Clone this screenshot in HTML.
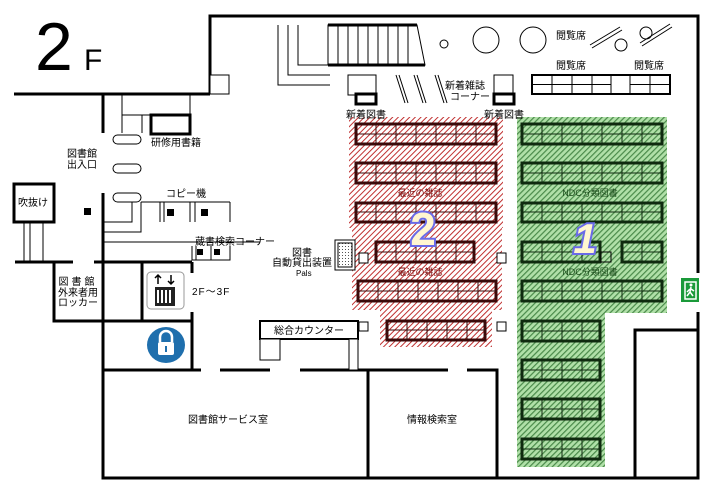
<!DOCTYPE html>
<html><head><meta charset="utf-8"><style>
html,body{margin:0;padding:0;background:#fff}
svg{display:block}
text{font-family:"Liberation Sans","Noto Sans CJK JP",sans-serif;font-size:10px;fill:#000}
</style></head><body>
<svg width="714" height="494" viewBox="0 0 714 494" xmlns="http://www.w3.org/2000/svg">
<defs>
<pattern id="red" width="4" height="4" patternUnits="userSpaceOnUse" patternTransform="rotate(45)">
<rect width="4" height="4" fill="#fff"/><rect width="1" height="4" fill="#c03030"/></pattern>
<pattern id="grn" width="4" height="4" patternUnits="userSpaceOnUse" patternTransform="rotate(45)">
<rect width="4" height="4" fill="#b0e0a8"/><rect width="1.2" height="4" fill="#4a8a4a"/></pattern>
<pattern id="dots" width="3" height="3" patternUnits="userSpaceOnUse"><rect width="3" height="3" fill="#fff"/><rect width="1" height="1" fill="#555"/></pattern>
</defs>
<g fill="none" stroke="#000" stroke-width="1">
<path d="M349 117 H503 V228 H502 V310 H492 V347 H380 V310 H352 V228 H349 Z" fill="url(#red)" stroke="none"/>
<path d="M517 117 H667 V313 H605 V467 H517 Z" fill="url(#grn)" stroke="none"/>
</g>
<g fill="none" stroke="#3a0a0a" stroke-width="3">
<rect x="356" y="124" width="140" height="20"/><rect x="356" y="163" width="140" height="20"/><rect x="356" y="203" width="140" height="19"/>
<rect x="376" y="242" width="98" height="20"/><rect x="358" y="281" width="138" height="20"/><rect x="387" y="321" width="98" height="19"/>
</g>
<g stroke="#3a0a0a" stroke-width="1">
<path d="M356 134H496M376 124v20M396 124v20M416 124v20M436 124v20M456 124v20M476 124v20"/>
<path d="M356 173H496M376 163v20M396 163v20M416 163v20M436 163v20M456 163v20M476 163v20"/>
<path d="M356 212H496M376 203v19M396 203v19M416 203v19M436 203v19M456 203v19M476 203v19"/>
<path d="M376 252H474M396 242v20M416 242v20M436 242v20M456 242v20"/>
<path d="M358 291H496M378 281v20M398 281v20M418 281v20M438 281v20M458 281v20M478 281v20"/>
<path d="M387 330H485M407 321v19M427 321v19M447 321v19M467 321v19"/>
</g>
<g fill="none" stroke="#0f2a0f" stroke-width="3">
<rect x="522" y="124" width="140" height="20"/><rect x="522" y="163" width="140" height="20"/><rect x="522" y="203" width="140" height="19"/>
<rect x="522" y="242" width="78" height="20"/><rect x="622" y="242" width="40" height="20"/><rect x="522" y="281" width="140" height="20"/>
<rect x="522" y="321" width="78" height="20"/><rect x="522" y="360" width="78" height="20"/><rect x="522" y="399" width="78" height="20"/><rect x="522" y="439" width="78" height="20"/>
</g>
<g stroke="#0f2a0f" stroke-width="1">
<path d="M522 134H662M522 173H662M522 212H662M522 252H600M622 252H662M522 291H662M522 331H600M522 370H600M522 409H600M522 449H600"/>
<path d="M542 124v20M562 124v20M582 124v20M602 124v20M622 124v20M642 124v20"/>
<path d="M542 163v20M562 163v20M582 163v20M602 163v20M622 163v20M642 163v20"/>
<path d="M542 203v19M562 203v19M582 203v19M602 203v19M622 203v19M642 203v19"/>
<path d="M542 242v20M562 242v20M582 242v20M642 242v20"/>
<path d="M542 281v20M562 281v20M582 281v20M602 281v20M622 281v20M642 281v20"/>
<path d="M542 321v20M562 321v20M582 321v20M542 360v20M562 360v20M582 360v20M542 399v20M562 399v20M582 399v20M542 439v20M562 439v20M582 439v20"/>
</g>
<rect x="601" y="252" width="10" height="10" fill="none" stroke="#000"/>
<g stroke="#000" stroke-width="3" fill="none">
<path d="M210 94V16H698V273M698 312V478H103V370"/>
<path d="M14 94H210"/>
<path d="M103 94V133M103 193V262M103 262V370"/>
<path d="M103 370H201M220 370H270M300 370H448M467 370H497V478M368 370V478"/>
<path d="M635 478V330H698"/>
<path d="M15 262H73M94 262H192M54 262V321H192M142 262V321M192 262V273M192 312V370"/>
<rect x="14" y="184" width="40" height="38"/>
<rect x="151" y="115" width="39" height="19"/>
</g>
<g stroke="#000" stroke-width="1" fill="#fff">
<rect x="210" y="75" width="19" height="19"/>
<path d="M278 25V85H330M288 25V75H330M298 25V65H330" fill="none"/>
<path d="M328 25H417L425 65H328Z" fill="none"/>
<path d="M328 25H417" stroke-width="3"/><path d="M328 65H425" stroke-width="3"/>
<path d="M338 25v40M348 25v40M358 25v40M368 25v40M378 25v40M388 25v40M398 25v40M408 25v40" fill="none"/>
<circle cx="444" cy="44" r="4"/><circle cx="486" cy="40" r="13"/><circle cx="533" cy="40" r="13"/>
<circle cx="621" cy="45" r="6"/><circle cx="646" cy="33" r="6"/>
<path d="M590 45L620 27M592 48L622 30M640 43L670 24M642 46L672 27" fill="none"/>
<rect x="532" y="75" width="79" height="19"/><rect x="611" y="75" width="19" height="19"/><rect x="630" y="75" width="40" height="19"/>
<path d="M532 84.5H611M552 75v19M572 75v19M592 75v19M630 84.5H670M650 75v19" fill="none"/>
<path d="M532 75H670V94H532Z" fill="none" stroke-width="2"/>
<rect x="348" y="75" width="28" height="20"/><rect x="494" y="75" width="19" height="20"/>
<rect x="356" y="94" width="20" height="10" stroke-width="3"/><rect x="494" y="94" width="20" height="10" stroke-width="3"/>
<path d="M396 75L405 103M399 75L408 103M414 75L423 103M417 75L426 103M435 75L444 103M438 75L447 103" fill="none"/>
<path d="M122 94V133M142 115V133M122 115H151M190 94V115" fill="none"/>
<rect x="113" y="135" width="28" height="9" rx="4.5"/><rect x="113" y="164" width="28" height="9" rx="4.5"/><rect x="113" y="193" width="28" height="9" rx="4.5"/>
<path d="M132 202V222H103M141 202V232H103M141 202H230M160 202v20M164 202v20M190 202v20M195 202v20M230 202v20" fill="none"/>
<path d="M24 222V262M30 222V262M43 222V262" fill="none"/>
<path d="M103 242H260" fill="none"/>
<path d="M192 246v14H230V246M196 246v14M211 246v14" fill="none"/>
<rect x="335" y="240" width="20" height="30"/><rect x="338" y="243" width="14" height="24" fill="url(#dots)"/>
<rect x="359" y="253" width="9" height="10"/><rect x="497" y="253" width="9" height="10"/>
<rect x="359" y="322" width="9" height="9"/><rect x="497" y="322" width="9" height="9"/>
<rect x="260" y="321" width="98" height="18" stroke-width="2"/>
<rect x="260" y="339" width="20" height="21"/><rect x="349" y="339" width="9" height="31"/>
</g>
<g fill="#000">
<rect x="84" y="208" width="7" height="7"/><rect x="167" y="209" width="7" height="7"/><rect x="201" y="209" width="7" height="7"/>
<rect x="197" y="249" width="6" height="6"/><rect x="214" y="249" width="6" height="6"/>
</g>
<rect x="147" y="272" width="37" height="37" rx="4" fill="#fff" stroke="#999"/>
<rect x="155" y="287" width="20" height="19" fill="#222"/>
<path d="M158 290v13M162 290v13M166 290v13M170 290v13" stroke="#fff" stroke-width="2"/>
<path d="M158 284V275M155 278L158 275L161 278M171 275V284M168 281L171 284L174 281" stroke="#000" stroke-width="1.5" fill="none"/>
<ellipse cx="166" cy="345" rx="19" ry="18" fill="#1f6fad"/>
<rect x="158" y="342" width="16" height="13" rx="2" fill="#fff"/>
<path d="M160 342v-5a6 6 0 0 1 12 0v5" stroke="#fff" stroke-width="2.5" fill="none"/>
<rect x="165" y="346" width="2" height="6" fill="#1f6fad"/>
<rect x="681" y="278" width="18" height="24" fill="#1a9a3a"/>
<path d="M685 282h11v17h-11z" fill="none" stroke="#fff" stroke-width="1.5"/>
<circle cx="691" cy="285" r="1.5" fill="#fff"/>
<path d="M691 287l-1 5 3 4M690 289l-3 3M691 289l3 2M690 292l-3 4" stroke="#fff" stroke-width="1.5" fill="none"/>
<text x="423" y="245" text-anchor="middle" style="font-size:46px;font-weight:bold;fill:#fff6d0;stroke:#6a6ae8;stroke-width:4;paint-order:stroke">2</text>
<text x="585" y="253" text-anchor="middle" style="font-size:42px;font-weight:bold;font-style:italic;fill:#fff6d0;stroke:#6a6ae8;stroke-width:4;paint-order:stroke">1</text>
<text x="35" y="70" style="font-size:68px">2</text>
<text x="84" y="70" style="font-size:30px">F</text>
<text x="556" y="39">閲覧席</text>
<text x="556" y="69">閲覧席</text><text x="634" y="69">閲覧席</text>
<text x="445" y="89">新着雑誌</text><text x="450" y="100">コーナー</text>
<text x="346" y="118">新着図書</text><text x="484" y="118">新着図書</text>
<text x="151" y="146">研修用書籍</text>
<text x="67" y="157">図書館</text><text x="67" y="168">出入口</text>
<text x="18" y="206">吹抜け</text>
<text x="166" y="197">コピー機</text>
<text x="195" y="245">蔵書検索コーナー</text>
<text x="292" y="256">図書</text><text x="272" y="266">自動貸出装置</text><text x="296" y="276" style="font-size:8px">Pals</text>
<text x="78" y="285" text-anchor="middle" style="letter-spacing:3px">図書館</text>
<text x="78" y="296" text-anchor="middle">外来者用</text>
<text x="78" y="306" text-anchor="middle">ロッカー</text>
<text x="192" y="295" style="letter-spacing:1px">2F～3F</text>
<text x="309" y="334" text-anchor="middle">総合カウンター</text>
<text x="228" y="423" text-anchor="middle">図書館サービス室</text>
<text x="432" y="423" text-anchor="middle">情報検索室</text>
<text x="420" y="196" text-anchor="middle" style="font-size:9px;fill:#7a1010">最近の雑誌</text>
<text x="420" y="275" text-anchor="middle" style="font-size:9px;fill:#7a1010">最近の雑誌</text>
<text x="590" y="196" text-anchor="middle" style="font-size:9px;fill:#1a4a1a">NDC分類図書</text>
<text x="590" y="275" text-anchor="middle" style="font-size:9px;fill:#1a4a1a">NDC分類図書</text>
</svg>
</body></html>
